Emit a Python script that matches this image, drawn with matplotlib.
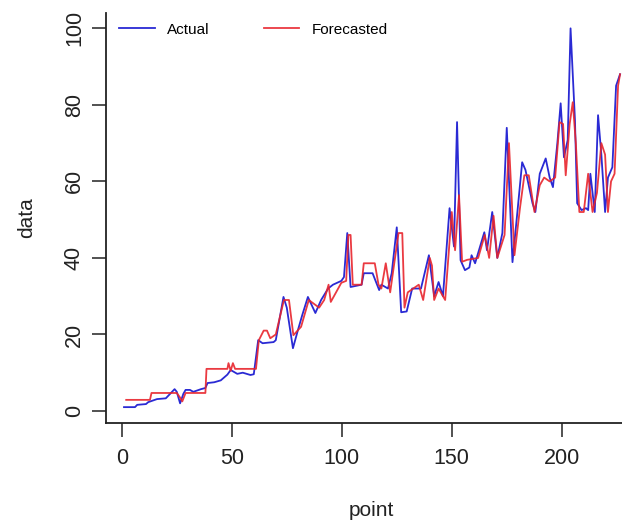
import numpy as np
import matplotlib
matplotlib.use('Agg')
import matplotlib.pyplot as plt

plt.rcParams['font.family'] = ['Liberation Sans', 'DejaVu Sans']

# (point, value) vertices
actual = [(1, 1.0), (6, 1.0), (7, 1.6), (11, 1.8), (12, 2.3), (16, 3.1), (20, 3.3), (22, 4.5),
          (24, 5.7), (25, 5.0), (26.5, 2.0), (28, 4.5), (29, 5.5), (31, 5.5), (32.5, 5.0),
          (36, 5.7), (38, 6.0), (39, 7.3), (42, 7.5), (45, 8.0), (48, 9.5), (49.5, 10.7),
          (52.5, 9.7), (55, 10.0), (58.5, 9.4), (60, 9.6), (62, 18.5), (64, 17.7), (69, 18.0),
          (70, 18.5), (73.5, 29.8), (75, 27.0), (77.8, 16.4), (80, 21.0), (82, 25.0),
          (84.6, 29.8), (88, 25.6), (90.6, 29.0), (93.8, 32.0), (96, 33.0), (99.8, 34.0),
          (101, 35.0), (102.5, 46.5), (104, 32.4), (109, 33.0), (110, 36.0), (114, 36.0),
          (117, 31.6), (118, 33.0), (121, 32.0), (122.7, 36.0), (125, 48.0), (127, 25.8),
          (129.5, 26.0), (132, 32.0), (136, 32.0), (139.6, 40.7), (142, 30.0), (144, 33.7),
          (146, 30.0), (149, 53.0), (151, 43.0), (152.4, 75.5), (154, 39.4), (156, 36.8),
          (158, 37.5), (159, 40.7), (160.6, 38.6), (164.8, 46.7), (166, 42.0), (168.4, 52.0),
          (170.7, 40.0), (173, 46.5), (175, 74.0), (177.6, 38.9), (180, 53.0), (182, 65.0),
          (183.5, 63.0), (186.7, 54.3), (188, 52.0), (190, 62.0), (192.7, 66.0), (194.5, 61.0),
          (196, 58.5), (198, 70.0), (199.5, 80.4), (201, 66.3), (202.7, 70.8), (204, 100.0),
          (206, 76.0), (207, 54.3), (209, 52.5), (211, 53.0), (212, 52.5), (213, 62.0),
          (215, 52.0), (216.5, 77.3), (218, 67.0), (219.7, 52.0), (221, 61.0), (223, 63.7),
          (224.7, 85.0), (226.5, 88.0)]

forecasted = [(2, 2.9), (12.8, 2.9), (13.5, 4.7), (25, 4.7), (26.5, 3.5), (27.5, 2.5), (29, 4.7),
              (38, 4.7), (38.5, 11.0), (48, 11.0), (48.5, 12.5), (49.5, 10.5), (50.5, 12.5),
              (51.5, 11.0), (61, 11.0), (62.3, 18.5), (64.5, 21.0), (66, 21.0), (67.5, 19.0),
              (70, 20.0), (73.7, 29.0), (76, 29.0), (78, 19.8), (81.5, 22.0), (85, 29.0),
              (89.7, 27.0), (92, 29.0), (94, 33.0), (95, 28.5), (99.8, 33.5), (102, 34.0),
              (103, 46.0), (104, 46.0), (105, 33.0), (109, 33.0), (110, 38.6), (115, 38.6),
              (116.7, 33.0), (118, 32.0), (120, 38.6), (122, 31.0), (125.8, 46.5), (127.5, 46.5),
              (128.5, 27.0), (130, 31.0), (135, 33.0), (137, 29.0), (140, 40.0), (141, 38.0),
              (142, 29.0), (144, 32.0), (147, 29.0), (150, 52.0), (151.5, 42.0), (153.3, 56.4),
              (154.7, 39.0), (157, 39.5), (162, 40.0), (165, 46.0), (167, 40.0), (169, 51.0),
              (170.7, 40.0), (174, 46.0), (176, 70.0), (178.5, 40.7), (181, 53.0), (183, 61.6),
              (185, 61.6), (187.6, 52.0), (190, 59.0), (192, 61.0), (194.5, 60.0), (197, 61.0),
              (199, 75.5), (200.6, 75.0), (201.8, 61.6), (203.6, 75.0), (205, 80.7),
              (206.4, 70.0), (208, 52.0), (210, 52.0), (212, 62.0), (214, 52.0), (216, 57.0),
              (218, 70.0), (219.7, 67.0), (221, 52.0), (222.4, 60.0), (224, 62.0),
              (225.6, 85.0), (226.5, 88.0)]

x_ticks = [0, 50, 100, 150, 200]
y_ticks = [0, 20, 40, 60, 80, 100]

actual = np.array(actual)
forecasted = np.array(forecasted)

fig = plt.figure(figsize=(6.22, 5.22), dpi=100)
ax = fig.add_axes([0.170, 0.190, 0.835, 0.785])

ax.plot(actual[:, 0], actual[:, 1], color='#2a2ad4', lw=1.3, label='Actual')
ax.plot(forecasted[:, 0], forecasted[:, 1], color='#e8242c', lw=1.3, label='Forecasted', alpha=0.9)

ax.set_xlim(-7.3, 228.8)
ax.set_ylim(-3.1, 104)
ax.set_xticks(x_ticks)
ax.set_yticks(y_ticks)
ax.set_yticklabels([str(v) for v in y_ticks], rotation=90, va='center')
ax.tick_params(labelsize=15.5, length=10, width=1.1, pad=5, color='#222222', labelcolor='#222222')
ax.tick_params(axis='x', pad=8)

for s in ['top', 'right']:
    ax.spines[s].set_visible(False)
for s in ['left', 'bottom']:
    ax.spines[s].set_linewidth(1.3)
    ax.spines[s].set_color('#222222')

ax.set_xlabel('point', fontsize=15, color='#222222')
ax.set_ylabel('data', fontsize=15, labelpad=20, color='#222222')
# the reference plot region runs past the right edge, so its label sits right of centre
ax.xaxis.set_label_coords(0.512, -0.19)

ax.legend(loc='upper left', ncol=2, frameon=False, fontsize=11, handlelength=2.3,
          columnspacing=3.6, bbox_to_anchor=(0.0, 1.01))

fig.savefig('out.png', dpi=100)
